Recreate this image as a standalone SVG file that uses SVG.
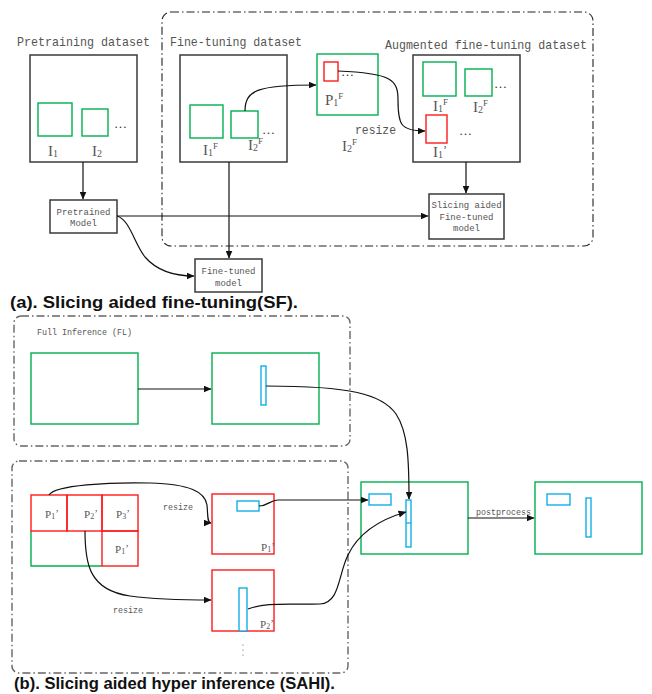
<svg xmlns="http://www.w3.org/2000/svg" width="652" height="694" viewBox="0 0 652 694">
  <defs>
    <marker id="arrow" markerWidth="8" markerHeight="7" refX="7.5" refY="3.5" orient="auto" markerUnits="userSpaceOnUse">
      <path d="M0,0 L8,3.5 L0,7 Z" fill="#111"/>
    </marker>
    <style>
      .frame { fill: none; stroke: #222; stroke-width: 1.1; stroke-dasharray: 8 3 1.5 3; }
      .frame-b { fill: none; stroke: #666; stroke-width: 1.4; stroke-dasharray: 8 3 1.5 3; }
      .box { fill: #fff; stroke: #3a3a3a; stroke-width: 1.5; }
      .green { fill: none; stroke: #00b050; stroke-width: 1.4; }
      .red { fill: none; stroke: #ff1a1a; stroke-width: 1.4; }
      .blue { fill: #fff; stroke: #00a8e8; stroke-width: 1.3; }
      .edge { fill: none; stroke: #111; stroke-width: 1.2; }
      .title { font-family: "Liberation Mono", "DejaVu Sans Mono", monospace; font-size: 13px; fill: #555; }
      .small { font-family: "Liberation Mono", "DejaVu Sans Mono", monospace; font-size: 9px; fill: #555; }
      .lbl { font-family: "Liberation Serif", "DejaVu Serif", serif; font-size: 15px; fill: #555; }
      .plbl { font-family: "Liberation Serif", "DejaVu Serif", serif; font-size: 11px; fill: #555; }
      .sub { font-size: 10px; }
      .sup { font-size: 9px; }
      .dots { font-family: "Liberation Serif", serif; font-size: 13px; fill: #333; }
      .cap { font-family: "Liberation Sans", Arial, sans-serif; font-size: 17px; font-weight: bold; fill: #111; }
    </style>
  </defs>

  <!-- ===== (a) Slicing aided fine-tuning ===== -->
  <rect class="frame" x="162" y="12" width="431" height="234" rx="9"/>

  <g id="pretraining-dataset">
    <text class="title" x="17" y="46" textLength="133" lengthAdjust="spacingAndGlyphs">Pretraining dataset</text>
    <rect class="box" x="30" y="55" width="107" height="107"/>
    <rect class="green" x="38" y="103" width="34" height="33"/>
    <rect class="green" x="82" y="109" width="26" height="27"/>
    <text class="dots" x="114" y="128">…</text>
    <text class="lbl" x="48" y="156">I<tspan class="sub" dy="1">1</tspan></text>
    <text class="lbl" x="92" y="156">I<tspan class="sub" dy="1">2</tspan></text>
  </g>

  <g id="pretrained-model">
    <rect class="box" x="50" y="200" width="67" height="33"/>
    <text class="small" x="83.5" y="215" text-anchor="middle">Pretrained</text>
    <text class="small" x="83.5" y="226" text-anchor="middle">Model</text>
  </g>

  <g id="finetuning-dataset">
    <text class="title" x="170" y="46" textLength="132" lengthAdjust="spacingAndGlyphs">Fine-tuning dataset</text>
    <rect class="box" x="180" y="55" width="107" height="107"/>
    <rect class="green" x="190" y="105" width="33" height="33"/>
    <rect class="green" x="231" y="111" width="27" height="27"/>
    <text class="dots" x="262" y="134">…</text>
    <text class="lbl" x="203" y="155">I<tspan class="sub" dy="1">1</tspan><tspan class="sup" dy="-7">F</tspan></text>
    <text class="lbl" x="248" y="150">I<tspan class="sub" dy="1">2</tspan><tspan class="sup" dy="-7">F</tspan></text>
  </g>

  <g id="finetuned-model">
    <rect class="box" x="195" y="259" width="67" height="33"/>
    <text class="small" x="228.5" y="274" text-anchor="middle">Fine-tuned</text>
    <text class="small" x="228.5" y="286" text-anchor="middle">model</text>
  </g>

  <g id="patch-p1f">
    <rect class="green" x="317" y="54" width="61" height="61"/>
    <rect class="red" x="324" y="62" width="14" height="19"/>
    <text class="dots" x="341" y="76">…</text>
    <text class="lbl" x="325" y="105">P<tspan class="sub" dy="1">1</tspan><tspan class="sup" dy="-7">F</tspan></text>
    <text class="title" x="355" y="134" textLength="41" lengthAdjust="spacingAndGlyphs">resize</text>
    <text class="lbl" x="342" y="151">I<tspan class="sub" dy="1">2</tspan><tspan class="sup" dy="-7">F</tspan></text>
  </g>

  <g id="augmented-dataset">
    <text class="title" x="385" y="49" textLength="202" lengthAdjust="spacingAndGlyphs">Augmented fine-tuning dataset</text>
    <rect class="box" x="413" y="55" width="107" height="107"/>
    <rect class="green" x="423" y="62" width="33" height="34"/>
    <rect class="green" x="465" y="69" width="27" height="27"/>
    <text class="dots" x="494" y="88">…</text>
    <text class="lbl" x="433" y="111">I<tspan class="sub" dy="1">1</tspan><tspan class="sup" dy="-7">F</tspan></text>
    <text class="lbl" x="473" y="112">I<tspan class="sub" dy="1">2</tspan><tspan class="sup" dy="-7">F</tspan></text>
    <rect class="red" x="426" y="115" width="21" height="28"/>
    <text class="dots" x="459" y="135">…</text>
    <text class="lbl" x="433" y="157">I<tspan class="sub" dy="1">1</tspan><tspan font-size="12" dy="-4">’</tspan></text>
  </g>

  <g id="slicing-finetuned-model">
    <rect class="box" x="429" y="194" width="75" height="45"/>
    <text class="small" x="466.5" y="208" text-anchor="middle">Slicing aided</text>
    <text class="small" x="466.5" y="220" text-anchor="middle">Fine-tuned</text>
    <text class="small" x="466.5" y="231" text-anchor="middle">model</text>
  </g>

  <g id="connectors-a">
    <path class="edge" d="M83,162 L83,199" marker-end="url(#arrow)"/>
    <path class="edge" d="M229,162 L229,258" marker-end="url(#arrow)"/>
    <path class="edge" d="M466,162 L466,193" marker-end="url(#arrow)"/>
    <path class="edge" d="M117,216 L428,216" marker-end="url(#arrow)"/>
    <path class="edge" d="M117,216 C130,220 134,243 145,257 C158,272 178,276 194,276" marker-end="url(#arrow)"/>
    <path class="edge" d="M245,111 C245,90 258,85 316,85" marker-end="url(#arrow)"/>
    <path class="edge" d="M338,71 C392,73 398,80 398,100 C398,124 400,131 425,131" marker-end="url(#arrow)"/>
  </g>

  <text class="cap" x="10" y="308" textLength="288" lengthAdjust="spacingAndGlyphs">(a). Slicing aided fine-tuning(SF).</text>

  <!-- ===== (b) Slicing aided hyper inference ===== -->
  <rect class="frame-b" x="14" y="316" width="336" height="130" rx="7"/>
  <text class="small" x="37" y="335" textLength="95" lengthAdjust="spacingAndGlyphs">Full Inference (FL)</text>

  <g id="full-image">
    <rect class="green" x="31" y="353" width="107" height="71"/>
  </g>
  <g id="full-prediction">
    <rect class="green" x="212" y="353" width="107" height="71"/>
    <rect class="blue" x="261" y="366" width="5" height="39"/>
  </g>

  <rect class="frame-b" x="12" y="461" width="336" height="212" rx="7"/>

  <g id="slice-grid">
    <path class="green" d="M31,531 L31,566 L102,566"/>
    <rect class="red" x="31" y="495" width="36" height="36"/>
    <rect class="red" x="67" y="495" width="35" height="36"/>
    <rect class="red" x="102" y="495" width="36" height="36"/>
    <rect class="red" x="102" y="531" width="36" height="35"/>
    <text class="plbl" x="45" y="518">P<tspan font-size="8" dy="1">1</tspan><tspan dy="-2">’</tspan></text>
    <text class="plbl" x="84" y="518">P<tspan font-size="8" dy="1">2</tspan><tspan dy="-2">’</tspan></text>
    <text class="plbl" x="116" y="518">P<tspan font-size="8" dy="1">3</tspan><tspan dy="-2">’</tspan></text>
    <text class="plbl" x="115" y="553">P<tspan font-size="8" dy="1">1</tspan><tspan dy="-2">’</tspan></text>
  </g>

  <text class="small" x="163" y="510" textLength="30" lengthAdjust="spacingAndGlyphs">resize</text>
  <text class="small" x="113" y="613" textLength="30" lengthAdjust="spacingAndGlyphs">resize</text>

  <g id="slice-p1">
    <rect class="red" x="212" y="494" width="62" height="60"/>
    <rect class="blue" x="237" y="501" width="22" height="10"/>
    <text class="plbl" x="261" y="551">P<tspan font-size="8" dy="1">1</tspan><tspan dy="-2">’</tspan></text>
  </g>

  <g id="slice-p2">
    <rect class="red" x="212" y="570" width="62" height="61"/>
    <rect class="blue" x="239" y="588" width="8" height="43"/>
    <text class="plbl" x="260" y="628">P<tspan font-size="8" dy="1">2</tspan><tspan dy="-2">’</tspan></text>
    <circle cx="243" cy="645" r="0.6" fill="#555"/>
    <circle cx="243" cy="650" r="0.6" fill="#555"/>
    <circle cx="243" cy="655" r="0.6" fill="#555"/>
  </g>

  <g id="merged-prediction">
    <rect class="green" x="361" y="482" width="107" height="72"/>
    <rect class="blue" x="369" y="494" width="22" height="11"/>
    <rect class="blue" x="406" y="500" width="5" height="47"/>
    <line x1="406" y1="523" x2="411" y2="523" stroke="#00a8e8" stroke-width="1.2"/>
  </g>

  <text class="small" x="476" y="515" textLength="55" lengthAdjust="spacingAndGlyphs">postprocess</text>

  <g id="final-prediction">
    <rect class="green" x="535" y="482" width="107" height="72"/>
    <rect class="blue" x="547" y="494" width="23" height="11"/>
    <rect class="blue" x="586" y="498" width="5" height="39"/>
  </g>

  <g id="connectors-b">
    <path class="edge" d="M138,389 L211,389" marker-end="url(#arrow)"/>
    <path class="edge" d="M266,386 C350,386 382,394 396,414 C408,432 409,460 409,499" marker-end="url(#arrow)"/>
    <path class="edge" d="M49,495 C55,485 110,482 150,483 C190,484 205,492 207,505 C208,515 207,523 211,523" marker-end="url(#arrow)"/>
    <path class="edge" d="M85,531 C85,562 88,590 130,596 C160,600 190,600 211,600" marker-end="url(#arrow)"/>
    <path class="edge" d="M259,506 C268,506 270,500 278,500 L368,500" marker-end="url(#arrow)"/>
    <path class="edge" d="M248,609 C265,602 290,605 320,604 C340,603 338,575 348,555 C360,530 385,518 406,512" marker-end="url(#arrow)"/>
    <path class="edge" d="M468,518 L534,518" marker-end="url(#arrow)"/>
  </g>

  <text class="cap" x="14" y="689" textLength="321" lengthAdjust="spacingAndGlyphs">(b). Slicing aided hyper inference (SAHI).</text>
</svg>
